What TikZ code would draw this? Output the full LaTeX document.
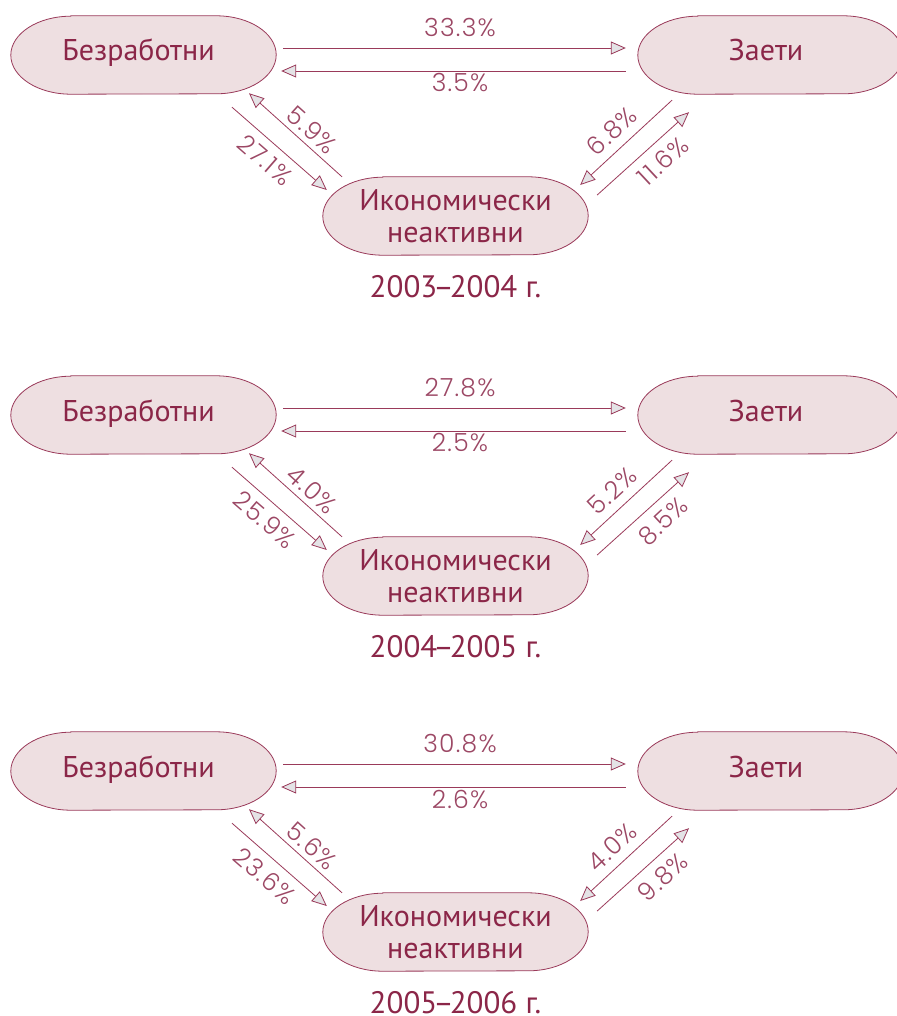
\documentclass[tikz,border=0pt]{standalone}
\usepackage{fontspec}
\usetikzlibrary{arrows.meta,backgrounds,calc}
\newfontfamily\nodefont{PT Sans}
\newfontfamily\pctfont[LetterSpace=5]{Poppins Light}
\definecolor{maroon}{HTML}{8B2648}
\definecolor{linecol}{HTML}{9A3A5A}
\definecolor{pctcol}{HTML}{9C4865}
\definecolor{boxfill}{HTML}{EEDFE1}
\definecolor{tipfill}{HTML}{E4E3E6}
\tikzset{
  stadnode/.style={minimum width=265pt, minimum height=78pt, inner sep=0pt,
    text=maroon, font=\nodefont\fontsize{30}{32}\selectfont, align=center},
  oneline/.style={text height=20pt, text depth=8pt},
  stadline/.style={draw=linecol, line width=0.8pt, fill=boxfill},
  flow/.style={draw=linecol, line width=0.8pt,
    -{Triangle[length=15pt, width=13pt, fill=tipfill, line join=miter]}},
  pct/.style={inner sep=0pt, text=pctcol, font=\pctfont\fontsize{25}{27}\selectfont},
  yearlbl/.style={inner sep=0pt, anchor=base, text=maroon, font=\nodefont\fontsize{31}{33}\selectfont}
}
\newcommand\stadshape[1]{%
  \begin{scope}[on background layer]
    \draw[stadline] ($(#1.north west)+(60pt,0pt)$) -- ($(#1.north east)+(-60pt,0pt)$)
      arc[start angle=90, end angle=-90, x radius=60pt, y radius=39pt]
      -- ($(#1.south west)+(60pt,0pt)$)
      arc[start angle=270, end angle=90, x radius=60pt, y radius=39pt] -- cycle;
  \end{scope}}
\newcommand\panel[8]{%
  \begin{scope}[yshift=-#1pt]
    \node[stadnode, oneline] (B#1) at (143.5,-55) {Безработни\kern10pt};
    \node[stadnode, oneline] (Z#1) at (770.5,-55) {Заети\kern9pt};
    \node[stadnode] (I#1) at (455.5,-216) {Икономически\\неактивни};
    \stadshape{B#1}\stadshape{Z#1}\stadshape{I#1}
    \draw[flow] ([shift={(7,7)}]B#1.east) -- ([shift={(-12,7)}]Z#1.west);
    \draw[flow] ([shift={(-12,-16)}]Z#1.west) -- ([shift={(5,-16)}]B#1.east);
    \draw[flow] ([shift={(88.5,-13)}]B#1.south) -- ([shift={(4,26)}]I#1.west);
    \draw[flow] ([shift={(-113.5,0)}]I#1.north) -- ([shift={(105.5,1)}]B#1.south);
    \draw[flow] ([shift={(-98.5,-6)}]Z#1.south) -- ([shift={(-8,31)}]I#1.east);
    \draw[flow] ([shift={(9,21)}]I#1.east) -- ([shift={(-81.5,-18)}]Z#1.south);
    \node[pct] (p1#1) at (460,-28) {#2};
    \node[pct] (p2#1) at (460,-83) {#3};
    \node[pct, rotate=-41] (p3#1) at (265,-160) {#4};
    \node[pct, rotate=-42] (p4#1) at (312,-130) {#5};
    \node[pct, rotate=43] (p5#1) at (612,-131) {#6};
    \node[pct, rotate=43] (p6#1) at (663,-161) {#7};
    \node[yearlbl] (Y#1) at (455.5,-297) {#8};
  \end{scope}}
\newcommand\yr[2]{#1\kern-4pt–\kern-4pt#2 г.}
\begin{document}
\begin{tikzpicture}[x=1pt, y=1pt]
  \useasboundingbox (0,0) rectangle (896,-1016);
  \panel{0}{33.3\%}{3.5\%}{27.1\%}{5.9\%}{6.8\%}{11.6\%}{\yr{2003}{2004}}
  \panel{360}{27.8\%}{2.5\%}{25.9\%}{4.0\%}{5.2\%}{8.5\%}{\yr{2004}{2005}}
  \panel{716}{30.8\%}{2.6\%}{23.6\%}{5.6\%}{4.0\%}{9.8\%}{\yr{2005}{2006}}
\end{tikzpicture}
\end{document}
